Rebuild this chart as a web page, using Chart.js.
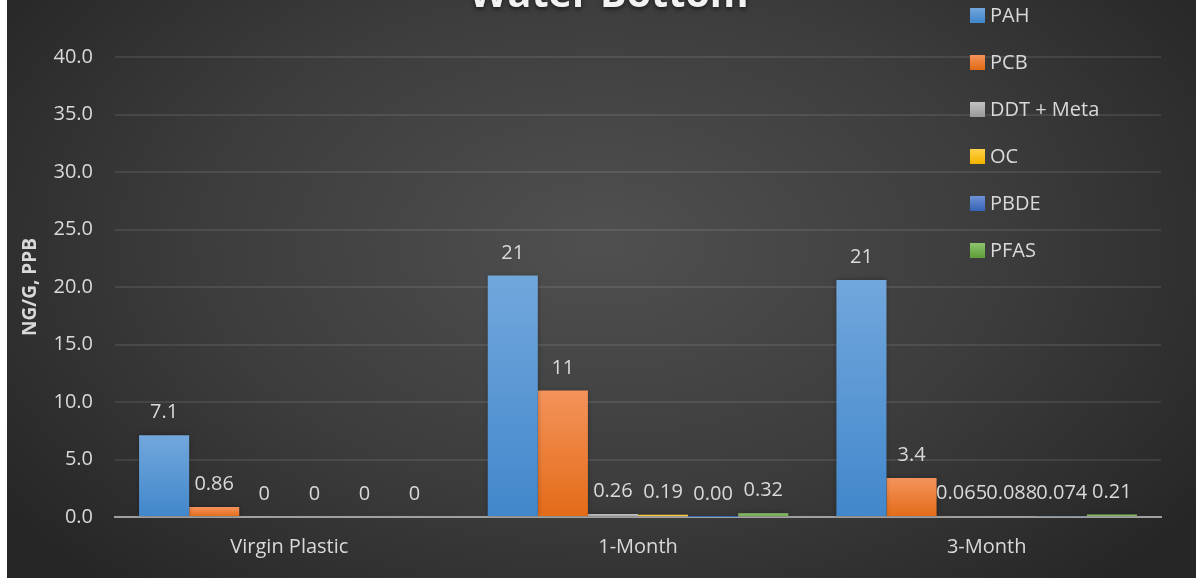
<!DOCTYPE html>
<html>
<head>
<meta charset="utf-8">
<script src="https://cdn.jsdelivr.net/npm/chart.js@4/dist/chart.umd.min.js"></script>
<style>
    html, body { margin: 0; padding: 0; background: #ffffff; }
    #wrap {
        position: absolute; left: 7px; top: 0;
        width: 1189px; height: 578px; overflow: hidden;
        background: radial-gradient(ellipse 62% 80% at 50% 42%, #505050 0%, #3c3c3c 55%, #262626 100%);
    }
    #graph1 { position: absolute; left: 0; top: 0; }
</style>
</head>
<body>
<div id="wrap"><canvas id="graph1" width="1189" height="578"></canvas></div>
<script>
// sample periods and measured contaminant levels (ng/g, ppb)
const periods = ["Virgin Plastic", "1-Month", "3-Month"];
const seriesNames = ["PAH", "PCB", "DDT + Meta", "OC", "PBDE", "PFAS"];
const pah  = [7.1, 21, 20.6];
const pcb  = [0.86, 11, 3.4];
const ddt  = [0, 0.26, 0.065];
const oc   = [0, 0.19, 0.088];
const pbde = [0, 0.001, 0.074];
const pfas = [0, 0.32, 0.21];
const chartTitle = "Water Bottom";

// light / dark ends of each bar's fill
const fills = [
    ["#72a7dc", "#4187cb"],
    ["#f4935b", "#e36b17"],
    ["#c2c2c2", "#9c9c9c"],
    ["#ffd24d", "#f2b400"],
    ["#6d92d6", "#3a66b8"],
    ["#8ec36e", "#62a03b"]
];

const textColor = "#d9d9d9";
const fontFamily = "'Open Sans', 'Noto Sans', sans-serif";

function barFill(idx) {
    return function(ctx) {
        const chart = ctx.chart;
        const y = chart.scales.y;
        if (!chart.chartArea || !y) return fills[idx][1];
        const v = ctx.dataset.data[ctx.dataIndex];
        const top = y.getPixelForValue(v);
        const bot = y.getPixelForValue(0);
        if (bot - top < 2) return fills[idx][1];
        const g = chart.ctx.createLinearGradient(0, top, 0, bot);
        g.addColorStop(0, fills[idx][0]);
        g.addColorStop(1, fills[idx][1]);
        return g;
    };
}

function fmt(v) {
    if (v === 0) return "0";
    if (v < 0.01) return v.toFixed(2);
    return v.toPrecision(2);
}

// soft shadow under the bars
const barShadow = {
    id: "barShadow",
    beforeDatasetsDraw(chart) {
        const c = chart.ctx;
        c.save();
        c.shadowColor = "rgba(0,0,0,0.35)";
        c.shadowBlur = 5;
    },
    afterDatasetsDraw(chart) {
        chart.ctx.restore();
    }
};

// value printed above each bar
const valueLabels = {
    id: "valueLabels",
    afterDatasetsDraw(chart) {
        const c = chart.ctx;
        c.save();
        c.font = "20px " + fontFamily;
        c.fillStyle = textColor;
        c.textAlign = "center";
        c.textBaseline = "alphabetic";
        chart.data.datasets.forEach(function(ds, i) {
            const meta = chart.getDatasetMeta(i);
            meta.data.forEach(function(bar, j) {
                c.fillText(fmt(ds.data[j]), bar.x, bar.y - 17);
            });
        });
        c.restore();
    }
};

// big title hanging off the top edge, with a dark drop shadow
const topTitle = {
    id: "topTitle",
    afterDraw(chart) {
        const c = chart.ctx;
        c.save();
        c.font = "bold 39.5px " + fontFamily;
        c.textAlign = "center";
        c.textBaseline = "alphabetic";
        c.shadowColor = "rgba(0,0,0,0.6)";
        c.shadowBlur = 5;
        c.shadowOffsetY = 2;
        c.fillStyle = "#f2f2f2";
        c.fillText(chartTitle, 602, 7);
        c.restore();
    }
};

// legend stacked down the right side, over the plot
const sideLegend = {
    id: "sideLegend",
    afterDraw(chart) {
        const c = chart.ctx;
        c.save();
        c.font = "20px " + fontFamily;
        c.textBaseline = "middle";
        c.textAlign = "left";
        chart.data.datasets.forEach(function(ds, i) {
            const cy = 15 + i * 47;
            const g = c.createLinearGradient(0, cy - 7, 0, cy + 7);
            g.addColorStop(0, fills[i][0]);
            g.addColorStop(1, fills[i][1]);
            c.fillStyle = g;
            c.fillRect(963, cy - 7, 15, 15);
            c.fillStyle = textColor;
            c.fillText(ds.label, 983, cy + 1);
        });
        c.restore();
    }
};

const seriesData = [pah, pcb, ddt, oc, pbde, pfas];

const g1 = new Chart("graph1", {
    type: "bar",
    data: {
        labels: periods,
        datasets: seriesData.map(function(d, i) {
            return {
                label: seriesNames[i],
                data: d,
                backgroundColor: barFill(i),
                borderWidth: 0,
                categoryPercentage: 0.862,
                barPercentage: 1.0
            };
        })
    },
    options: {
        responsive: false,
        animation: false,
        devicePixelRatio: 1,
        layout: { padding: { left: 0, right: 35, top: 57, bottom: 0 } },
        plugins: {
            legend: { display: false },
            tooltip: { enabled: false },
            title: { display: false }
        },
        scales: {
            x: {
                grid: { display: false, drawTicks: false },
                border: { display: true, color: "#a0a0a0", width: 2 },
                ticks: { color: textColor, font: { family: fontFamily, size: 20 }, padding: 18 },
                afterFit: function(s) { s.height = 61; }
            },
            y: {
                min: 0,
                max: 40,
                ticks: {
                    stepSize: 5,
                    color: textColor,
                    font: { family: fontFamily, size: 20 },
                    padding: 22,
                    callback: function(v) { return v.toFixed(1); }
                },
                grid: {
                    drawTicks: false,
                    lineWidth: 2,
                    color: function(ctx) { return ctx.index === 0 ? "rgba(0,0,0,0)" : "rgba(255,255,255,0.09)"; }
                },
                border: { display: false },
                title: {
                    display: true,
                    text: "NG/G, PPB",
                    color: textColor,
                    font: { family: fontFamily, size: 19, weight: "bold" },
                    padding: { top: 12, bottom: 0 }
                },
                afterFit: function(s) { s.width = 108; }
            }
        }
    },
    plugins: [barShadow, valueLabels, topTitle, sideLegend]
});
</script>
</body>
</html>
